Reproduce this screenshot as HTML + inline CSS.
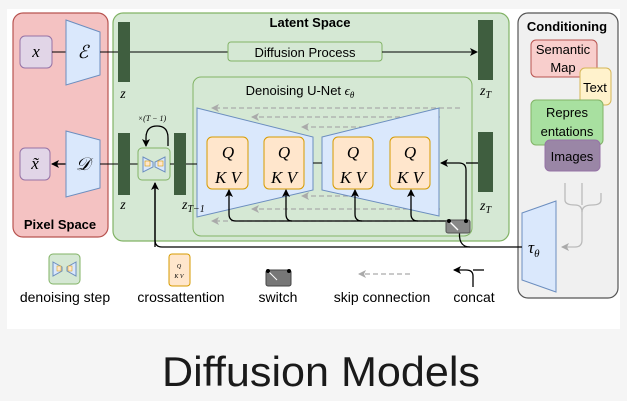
<!DOCTYPE html>
<html><head><meta charset="utf-8"><style>
html,body{margin:0;padding:0;background:#f5f5f5;}
svg{display:block;font-family:"Liberation Sans",sans-serif;}
.m{font-family:"Liberation Serif",serif;font-style:italic;}
</style></head><body>
<svg width="627" height="401" viewBox="0 0 627 401" xmlns="http://www.w3.org/2000/svg">
<defs>
<marker id="a" markerWidth="8" markerHeight="8" refX="7" refY="4" orient="auto" markerUnits="userSpaceOnUse"><path d="M0,0 L8,4 L0,8 L2,4z" fill="#000"/></marker>
<marker id="g" markerWidth="8" markerHeight="8" refX="7" refY="4" orient="auto" markerUnits="userSpaceOnUse"><path d="M0,0 L8,4 L0,8 L2,4z" fill="#aaa"/></marker>
</defs>
<rect x="7" y="9" width="613" height="320" fill="#fff"/>
<rect x="13" y="13" width="95" height="224" rx="10" fill="#f4c2c2" stroke="#b85450" stroke-width="1.2"/>
<text x="60" y="229" font-size="13" font-weight="bold" text-anchor="middle">Pixel Space</text>
<rect x="113" y="13" width="396" height="228" rx="10" fill="#d5e8d4" stroke="#82b366" stroke-width="1.2"/>
<text x="310" y="27" font-size="13" font-weight="bold" text-anchor="middle">Latent Space</text>
<rect x="518" y="13" width="100" height="285" rx="10" fill="#f0f0f0" stroke="#555" stroke-width="1.2"/>
<text x="567" y="31" font-size="13" font-weight="bold" text-anchor="middle">Conditioning</text>
<rect x="531" y="40" width="66" height="37" rx="5" fill="#f8cecc" stroke="#b85450"/>
<text x="563" y="54" font-size="13" text-anchor="middle">Semantic</text>
<text x="563" y="72" font-size="13" text-anchor="middle">Map</text>
<rect x="580" y="68" width="31" height="37" rx="5" fill="#fff2cc" stroke="#d6b656"/>
<text x="595" y="92" font-size="13" text-anchor="middle">Text</text>
<rect x="531" y="100" width="72" height="45" rx="5" fill="#a8e0a0" stroke="#82b366"/>
<text x="567" y="117" font-size="13" text-anchor="middle">Repres</text>
<text x="567" y="136" font-size="13" text-anchor="middle">entations</text>
<rect x="545" y="140" width="55" height="31" rx="5" fill="#9a86a6" stroke="#9673a6"/>
<text x="572" y="161" font-size="13" text-anchor="middle">Images</text>
<path d="M565,183 V200 Q565,205 575,205 Q582,205 582,212 V240 Q582,247 575,247 H562" fill="none" stroke="#bbb" stroke-width="1.3" marker-end="url(#g)"/>
<path d="M582,183 V205 M601,193 V200 Q601,205 592,205 Q582,205 582,212" fill="none" stroke="#bbb" stroke-width="1.3"/>
<polygon points="522,213 556,201 556,292 522,280" fill="#dae8fc" stroke="#6c8ebf"/>
<text x="528" y="253" font-size="17" class="m">τ<tspan font-size="11" dy="4">θ</tspan></text>
<rect x="20" y="36" width="32" height="32" rx="5" fill="#e1d5e7" stroke="#9673a6"/>
<text x="36" y="57" font-size="17" class="m" text-anchor="middle">x</text>
<line x1="52" y1="52" x2="66" y2="52" stroke="#000"/>
<polygon points="66,20 100,32 100,75 66,85" fill="#dae8fc" stroke="#6c8ebf"/>
<text x="83" y="58" font-size="18" class="m" text-anchor="middle">ℰ</text>
<line x1="100" y1="52" x2="118" y2="52" stroke="#000"/>
<rect x="118" y="22" width="12" height="60" fill="#3f5e3f"/>
<text x="123" y="98" font-size="14" class="m" text-anchor="middle">z</text>
<line x1="130" y1="52" x2="228" y2="52" stroke="#000"/>
<rect x="228" y="42" width="154" height="19" rx="3" fill="#d5e8d4" stroke="#82b366"/>
<text x="305" y="57" font-size="13" text-anchor="middle">Diffusion Process</text>
<line x1="382" y1="52" x2="477" y2="52" stroke="#000" marker-end="url(#a)"/>
<rect x="478" y="20" width="15" height="60" fill="#3f5e3f"/>
<text x="480" y="95" font-size="14" class="m">z<tspan font-size="10" dy="3">T</tspan></text>
<rect x="193" y="77" width="279" height="159" rx="8" fill="#d5e8d4" stroke="#82b366"/>
<text x="300" y="95" font-size="13" text-anchor="middle">Denoising U-Net <tspan class="m">ϵ</tspan><tspan class="m" font-size="9" dy="3">θ</tspan></text>
<g stroke="#aaa" stroke-dasharray="5,3" stroke-width="1.3" fill="none" marker-end="url(#g)">
<line x1="460" y1="108" x2="212" y2="108"/><line x1="440" y1="117" x2="252" y2="117"/><line x1="420" y1="127" x2="302" y2="127"/>
<line x1="420" y1="196" x2="302" y2="196"/><line x1="440" y1="209" x2="252" y2="209"/><line x1="460" y1="221" x2="212" y2="221"/>
</g>
<polygon points="197,108 313,137 313,190 197,217" fill="#dae8fc" stroke="#6c8ebf"/>
<polygon points="322,137 439,108 439,216 322,190" fill="#dae8fc" stroke="#6c8ebf"/>
<line x1="313" y1="163" x2="322" y2="163" stroke="#000"/>
<g fill="#ffe6cc" stroke="#d79b00">
<rect x="207" y="137" width="41" height="52" rx="5"/><rect x="264" y="137" width="40" height="52" rx="5"/>
<rect x="333" y="137" width="40" height="52" rx="5"/><rect x="390" y="137" width="40" height="52" rx="5"/>
</g>
<g font-size="17" class="m" text-anchor="middle">
<text x="228" y="158">Q</text><text x="228" y="183">K V</text>
<text x="284" y="158">Q</text><text x="284" y="183">K V</text>
<text x="353" y="158">Q</text><text x="353" y="183">K V</text>
<text x="410" y="158">Q</text><text x="410" y="183">K V</text>
</g>
<g fill="none" stroke="#000" stroke-width="1.3">
<path d="M450,221 H236 Q229,221 229,214 V190" marker-end="url(#a)"/>
<path d="M292,221 Q286,221 286,214 V190" marker-end="url(#a)"/>
<path d="M362,221 Q355,221 355,214 V190" marker-end="url(#a)"/>
<path d="M418,221 Q411,221 411,214 V190" marker-end="url(#a)"/>
<path d="M466,221 V170 Q466,163 459,163 H441" marker-end="url(#a)"/>
<line x1="478" y1="163" x2="466" y2="163"/>
<path d="M460,228 Q457,247 470,247" />
<path d="M155,183 V240 Q155,247 162,247 H522"/>
<line x1="155" y1="247" x2="155" y2="183" marker-end="url(#a)"/>
</g>
<rect x="446" y="220" width="24" height="13" rx="2" fill="#888" stroke="#555"/>
<line x1="450" y1="222" x2="458" y2="230" stroke="#fff" stroke-width="1.3"/>
<circle cx="449" cy="221" r="2" fill="#000"/><circle cx="466" cy="221" r="2" fill="#000"/>
<rect x="478" y="132" width="15" height="60" fill="#3f5e3f"/>
<text x="480" y="210" font-size="14" class="m">z<tspan font-size="10" dy="3">T</tspan></text>
<rect x="20" y="148" width="30" height="32" rx="5" fill="#e1d5e7" stroke="#9673a6"/>
<text x="35" y="169" font-size="17" class="m" text-anchor="middle">x̃</text>
<line x1="66" y1="164" x2="52" y2="164" stroke="#000" stroke-width="1.3" marker-end="url(#a)"/>
<polygon points="66,131 100,140 100,188 66,197" fill="#dae8fc" stroke="#6c8ebf"/>
<text x="83" y="170" font-size="18" class="m" text-anchor="middle">𝒟</text>
<line x1="100" y1="164" x2="118" y2="164" stroke="#000"/>
<rect x="118" y="133" width="12" height="62" fill="#3f5e3f"/>
<text x="123" y="209" font-size="14" class="m" text-anchor="middle">z</text>
<line x1="130" y1="164" x2="138" y2="164" stroke="#000"/>
<rect x="138" y="148" width="32" height="32" rx="4" fill="#d5e8d4" stroke="#82b366"/>
<polygon points="143,157 153,162 153,167 143,172" fill="#dae8fc" stroke="#6c8ebf"/>
<polygon points="165,157 155,162 155,167 165,172" fill="#dae8fc" stroke="#6c8ebf"/>
<rect x="145" y="161" width="5" height="5" fill="#ffe6cc" stroke="#d79b00" stroke-width=".6"/>
<rect x="158" y="161" width="5" height="5" fill="#ffe6cc" stroke="#d79b00" stroke-width=".6"/>
<line x1="170" y1="164" x2="174" y2="164" stroke="#000"/>
<path d="M168,146 V138 Q168,126 157,126 Q146,126 146,138 V146" fill="none" stroke="#000" stroke-width="1.3" marker-end="url(#a)"/>
<text x="152" y="121" font-size="8" text-anchor="middle" class="m">×(T − 1)</text>
<rect x="174" y="133" width="12" height="62" fill="#3f5e3f"/>
<text x="182" y="209" font-size="14" class="m">z<tspan font-size="10" dy="3">T−1</tspan></text>
<line x1="186" y1="164" x2="197" y2="164" stroke="#000"/>
<!-- legend -->
<rect x="49" y="254" width="31" height="30" rx="4" fill="#d5e8d4" stroke="#82b366"/>
<polygon points="53,262 62,267 62,271 53,276" fill="#dae8fc" stroke="#6c8ebf"/>
<polygon points="76,262 67,267 67,271 76,276" fill="#dae8fc" stroke="#6c8ebf"/>
<rect x="57" y="266" width="4" height="5" fill="#ffe6cc" stroke="#d79b00" stroke-width=".5"/>
<rect x="68" y="266" width="4" height="5" fill="#ffe6cc" stroke="#d79b00" stroke-width=".5"/>
<rect x="169" y="254" width="21" height="32" rx="3" fill="#ffe6cc" stroke="#d79b00"/>
<text x="179" y="268" font-size="6" class="m" text-anchor="middle">Q</text>
<text x="179" y="278" font-size="6" class="m" text-anchor="middle">K V</text>
<rect x="266" y="270" width="25" height="16" rx="2" fill="#777" stroke="#444"/>
<line x1="269" y1="272" x2="277" y2="280" stroke="#fff"/>
<circle cx="268" cy="271" r="2" fill="#000"/><circle cx="289" cy="271" r="2" fill="#000"/>
<line x1="410" y1="274" x2="359" y2="274" stroke="#aaa" stroke-dasharray="5,3" stroke-width="1.3" marker-end="url(#g)"/>
<path d="M473,287 V276 Q473,270 466,270 H454" fill="none" stroke="#000" stroke-width="1.3" marker-end="url(#a)"/>
<line x1="473" y1="270" x2="484" y2="270" stroke="#000" stroke-width="1.3"/>
<g font-size="14" text-anchor="middle">
<text x="65" y="302">denoising step</text><text x="181" y="302">crossattention</text>
<text x="278" y="302">switch</text><text x="382" y="302">skip connection</text><text x="474" y="302">concat</text>
</g>
<text x="321" y="386" font-size="42" fill="#1a1a1a" text-anchor="middle" textLength="318" lengthAdjust="spacingAndGlyphs">Diffusion Models</text>
</svg>
</body></html>
